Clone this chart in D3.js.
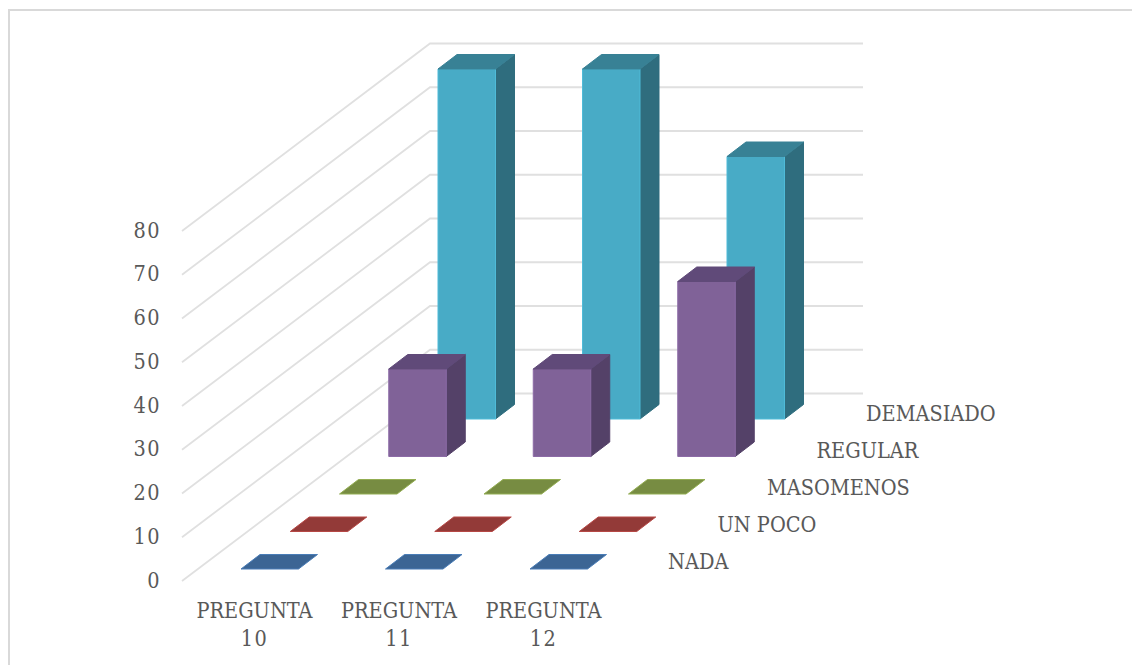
<!DOCTYPE html>
<html><head><meta charset="utf-8">
<script src="https://cdnjs.cloudflare.com/ajax/libs/d3/7.8.5/d3.min.js"></script>
<style>html,body{margin:0;padding:0;background:#fff;overflow:hidden}svg{display:block}
text{font-family:"DejaVu Serif Condensed","DejaVu Serif",serif;font-stretch:condensed;fill:#595959;font-size:21.5px}</style>
</head><body><svg id="c" width="1132" height="665"></svg>
<script>
const categories = [["PREGUNTA","10"],["PREGUNTA","11"],["PREGUNTA","12"]];
const seriesNames = ["NADA","UN POCO","MASOMENOS","REGULAR","DEMASIADO"];
const nada = [0,0,0];
const unPoco = [0,0,0];
const masomenos = [0,0,0];
const regular = [20,20,40];
const demasiado = [80,80,60];
const seriesValues = [nada,unPoco,masomenos,regular,demasiado];
const yTicks = [0,10,20,30,40,50,60,70,80];
const fills = ["#3c6594","#933a38","#778c42","#806298","#48abc6"];
const sides = ["#2d4c6f","#6e2c2a","#596931","#544168","#2f6d7e"];
const tops = ["#3c6594","#933a38","#778c42","#604a79","#388195"];

const svg = d3.select("#c");
svg.append("path").attr("d",d3.line()([[9,680],[9,10],[1140,10]]))
  .attr("fill","none").attr("stroke","#d9d9d9").attr("stroke-width",2);

// projection scales: value -> height, category -> x, series -> (x,y) shift, wall depth
const h = d3.scaleLinear().domain([0,80]).range([0,350]);
const catX = d3.scaleLinear().domain([0,2]).range([241,530]);
const serDX = d3.scaleLinear().domain([0,4]).range([0,197]);
const serDY = d3.scaleLinear().domain([0,4]).range([569,419]);
const barW = 57.5, dX = 19, dY = 14.5;

const grid = svg.append("g").attr("fill","none").attr("stroke","#e0e0e0").attr("stroke-width",1.8);
const wallL = 182, wallB = 430, wallR = 863, y0Front = 581, y0Back = 393.5;
yTicks.forEach(t=>{
  grid.append("path").attr("d",d3.line()([[wallL,y0Front-h(t)],[wallB,y0Back-h(t)],[wallR,y0Back-h(t)]]));
});

svg.append("g").selectAll("text").data(yTicks).join("text")
  .attr("x",161).attr("y",t=>y0Front-h(t)+6.5).attr("text-anchor","end")
  .style("letter-spacing","1.5px").text(d=>d);

const bars = svg.append("g");
const poly = (pts,fill,stroke)=>bars.append("polygon").attr("points",pts.map(p=>p.join(",")).join(" "))
  .attr("fill",fill).attr("stroke",stroke).attr("stroke-width",1).attr("stroke-linejoin","round");
for(let s=4;s>=0;s--){
  categories.forEach((_,c)=>{
    const v=seriesValues[s][c], x=catX(c)+serDX(s), yb=serDY(s), yt=yb-h(v);
    if(v>0){
      poly([[x+barW,yb],[x+barW+dX,yb-dY],[x+barW+dX,yt-dY],[x+barW,yt]],sides[s],sides[s]);
      poly([[x,yb],[x+barW,yb],[x+barW,yt],[x,yt]],fills[s],d3.color(fills[s]).brighter(.25));
    }
    poly([[x,yt],[x+barW,yt],[x+barW+dX,yt-dY],[x+dX,yt-dY]],tops[s],v>0?tops[s]:d3.color(fills[s]).brighter(.6));
  });
}

const labelX = d3.scaleLinear().domain([0,4]).range([668,866]);
const labelY = d3.scaleLinear().domain([0,4]).range([569,420.5]);
svg.append("g").selectAll("text").data(seriesNames).join("text")
  .attr("x",(d,i)=>labelX(i)).attr("y",(d,i)=>labelY(i)).text(d=>d);

const catG = svg.append("g").selectAll("text").data(categories).join("text").attr("text-anchor","middle");
catG.append("tspan").attr("x",(d,i)=>catX(i)+13.5).attr("y",618).text(d=>d[0]);
catG.append("tspan").attr("x",(d,i)=>catX(i)+13.5).attr("y",646).style("letter-spacing","1.5px").text(d=>d[1]);
</script></body></html>
